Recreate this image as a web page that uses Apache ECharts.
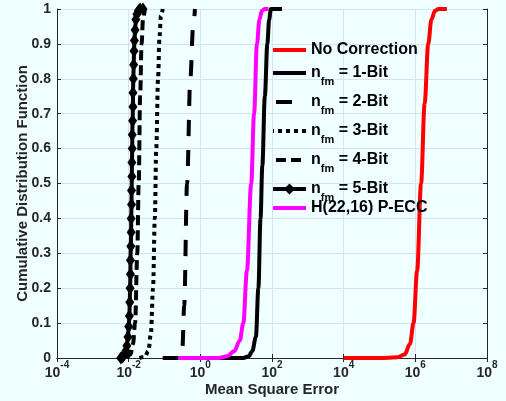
<!DOCTYPE html>
<html><head><meta charset="utf-8">
<script src="https://cdn.jsdelivr.net/npm/echarts@6/dist/echarts.min.js"></script>
<style>html,body{margin:0;padding:0;background:#F0FFFF;}#c{width:506px;height:401px;}</style>
</head><body><div id="c"></div>
<script>
// log10(MSE) and CDF values
var noCorrLog = [4.0, 5.0, 5.5, 5.7, 5.85, 5.95, 6.05, 6.16, 6.26, 6.36, 6.45, 6.55, 6.65, 6.88];
var noCorrCdf = [0, 0, 0.002, 0.01, 0.04, 0.1, 0.25, 0.5, 0.73, 0.9, 0.97, 0.995, 1, 1];

var bit1Log = [0.3, 1.2, 1.35, 1.45, 1.55, 1.62, 1.68, 1.73, 1.8, 1.87, 1.92, 1.97, 2.28];
var bit1Cdf = [0, 0, 0.005, 0.02, 0.06, 0.2, 0.4, 0.55, 0.75, 0.9, 0.97, 1, 1];

var bit2Log = [-1.05, -0.56, -0.5, -0.45, -0.37, -0.28, -0.2, -0.15];
var bit2Cdf = [0, 0, 0.03, 0.15, 0.5, 0.8, 0.95, 1];

var bit3Log = [-1.7, -1.55, -1.45, -1.38, -1.32, -1.27, -1.23, -1.18, -1.14, -1.1, -1.05];
var bit3Cdf = [0, 0.003, 0.02, 0.07, 0.2, 0.4, 0.6, 0.8, 0.92, 0.98, 1];

var bit4Log = [-2.05, -1.95, -1.88, -1.82, -1.76, -1.72, -1.68, -1.64, -1.6, -1.55];
var bit4Cdf = [0, 0.01, 0.04, 0.1, 0.3, 0.5, 0.75, 0.9, 0.97, 1];

var bit5Log = [-2.22, -2.17, -2.12, -2.08, -2.05, -2.02, -2.0, -1.98, -1.97, -1.96, -1.95, -1.95, -1.94, -1.93, -1.93, -1.92, -1.92, -1.91, -1.91, -1.9, -1.9, -1.89, -1.88, -1.88, -1.87, -1.86, -1.85, -1.84, -1.82, -1.8, -1.77, -1.73, -1.68, -1.6];
var bit5Cdf = [0, 0.003, 0.01, 0.02, 0.035, 0.06, 0.09, 0.12, 0.16, 0.2, 0.24, 0.28, 0.32, 0.36, 0.4, 0.44, 0.48, 0.52, 0.56, 0.6, 0.64, 0.68, 0.72, 0.76, 0.8, 0.84, 0.88, 0.91, 0.94, 0.97, 0.985, 0.995, 1, 1];

var eccLog = [-0.62, 0.5, 0.75, 0.95, 1.1, 1.2, 1.3, 1.42, 1.5, 1.58, 1.65, 1.72, 1.8, 1.9];
var eccCdf = [0, 0, 0.005, 0.02, 0.05, 0.1, 0.25, 0.5, 0.7, 0.9, 0.97, 0.995, 1, 1];

var seriesNames = ['No Correction', 'nfm1', 'nfm2', 'nfm3', 'nfm4', 'nfm5', 'H(22,16) P-ECC'];
var bitLabels = {nfm1: ' = 1-Bit', nfm2: ' = 2-Bit', nfm3: ' = 3-Bit', nfm4: ' = 4-Bit', nfm5: ' = 5-Bit'};

function pts(lg, cdf) { return lg.map(function (e, i) { return [Math.pow(10, e), cdf[i]]; }); }

var FONT = 'Liberation Sans';
var AX = '#262626';
var chart = echarts.init(document.getElementById('c'), null, {renderer: 'canvas'});

function line(name, lg, cdf, color, type, extra) {
  var s = {
    name: name, type: 'line', data: pts(lg, cdf), smooth: 0.35, smoothMonotone: 'x',
    showSymbol: false, symbol: 'none', animation: false,
    lineStyle: {color: color, width: 4, type: type, cap: 'butt'},
    itemStyle: {color: color}
  };
  if (extra) Object.assign(s, extra);
  return s;
}

var hide = {opacity: 0};
var legendText = {
  fontFamily: FONT, fontWeight: 'bold', fontSize: 16, color: '#000',
  rich: {
    n: {fontFamily: FONT, fontWeight: 'bold', fontSize: 16, color: '#000', lineHeight: 28, verticalAlign: 'middle'},
    s: {fontFamily: FONT, fontWeight: 'bold', fontSize: 11, color: '#000', lineHeight: 28, verticalAlign: 'bottom'}
  }
};
function legendFmt(name) {
  if (bitLabels[name]) return '{n|n}{s|fm}{n|' + bitLabels[name] + '}';
  return name;
}
function lw(c, t, extra) {
  var o = {color: c, width: 4, type: t, cap: 'butt'};
  if (extra) Object.assign(o, extra);
  return o;
}

var option = {
  backgroundColor: '#F0FFFF',
  animation: false,
  grid: {left: 57, right: 19, top: 9, bottom: 43, show: false, outerBoundsMode: 'none', containLabel: false},
  legend: [{
    orient: 'vertical', left: 266, top: 42, itemWidth: 33, itemHeight: 14, itemGap: 7, padding: [0, 0, 0, 5],
    data: [
      {name: 'No Correction', itemStyle: hide, lineStyle: lw('#FF0000', 'solid')},
      {name: 'nfm1', itemStyle: hide, lineStyle: lw('#000', 'solid')},
      {name: 'nfm2', itemStyle: hide, lineStyle: lw('#000', [16, 14], {dashOffset: 27})},
      {name: 'nfm3', itemStyle: hide, lineStyle: lw('#000', [4, 4])},
      {name: 'nfm4', itemStyle: hide, lineStyle: lw('#000', [10, 5])},
      {name: 'nfm5', lineStyle: lw('#000', 'solid')}
    ],
    formatter: legendFmt,
    textStyle: legendText
  }, {
    orient: 'vertical', left: 266, top: 200, itemWidth: 33, itemHeight: 14, padding: [0, 0, 0, 5],
    data: [{name: 'H(22,16) P-ECC', itemStyle: hide, lineStyle: lw('#FF00FF', 'solid')}],
    formatter: legendFmt,
    textStyle: legendText
  }],
  xAxis: [{
    type: 'log', logBase: 10, min: 1e-4, max: 1e8, interval: 2, splitNumber: 6,
    name: 'Mean Square Error', nameLocation: 'middle', nameGap: 24, nameMoveOverlap: false,
    nameTextStyle: {fontFamily: FONT, fontWeight: 'bold', fontSize: 15, color: AX},
    axisLine: {show: true, lineStyle: {color: AX, width: 1}},
    axisTick: {show: true, inside: true, length: 4, lineStyle: {color: AX}},
    minorTick: {show: false},
    splitLine: {show: true, lineStyle: {color: '#D5E2F5', width: 1}},
    axisLabel: {
      margin: 2,
      formatter: function (v) {
        var e = Math.round(Math.log10(v));
        return '{b|10}{e|' + e + '}';
      },
      rich: {
        b: {fontFamily: FONT, fontWeight: 'bold', fontSize: 14, color: AX, lineHeight: 20, verticalAlign: 'bottom'},
        e: {fontFamily: FONT, fontWeight: 'bold', fontSize: 10, color: AX, lineHeight: 20, verticalAlign: 'top'}
      }
    }
  }, {
    type: 'log', logBase: 10, min: 1e-4, max: 1e8, interval: 2, splitNumber: 6, position: 'top',
    axisLine: {show: true, lineStyle: {color: AX, width: 1}},
    axisTick: {show: true, inside: true, length: 4, lineStyle: {color: AX}},
    axisLabel: {show: false}, splitLine: {show: false}
  }],
  yAxis: [{
    type: 'value', min: 0, max: 1, interval: 0.1,
    name: 'Cumulative Distribution Function', nameLocation: 'middle', nameGap: 27, nameMoveOverlap: false,
    nameTextStyle: {fontFamily: FONT, fontWeight: 'bold', fontSize: 15, color: AX},
    axisLine: {show: true, lineStyle: {color: AX, width: 1}},
    axisTick: {show: true, inside: true, length: 4, lineStyle: {color: AX}},
    splitLine: {show: true, lineStyle: {color: '#D5E2F5', width: 1}},
    axisLabel: {
      margin: 6, fontFamily: FONT, fontWeight: 'bold', fontSize: 14, color: AX,
      formatter: function (v) { return String(Math.round(v * 10) / 10); }
    }
  }, {
    type: 'value', min: 0, max: 1, interval: 0.1, position: 'right',
    axisLine: {show: true, lineStyle: {color: AX, width: 1}},
    axisTick: {show: true, inside: true, length: 4, lineStyle: {color: AX}},
    axisLabel: {show: false}, splitLine: {show: false}
  }],
  series: [
    line('No Correction', noCorrLog, noCorrCdf, '#FF0000', 'solid'),
    line('nfm1', bit1Log, bit1Cdf, '#000000', 'solid'),
    line('nfm2', bit2Log, bit2Cdf, '#000000', [16, 14]),
    line('nfm3', bit3Log, bit3Cdf, '#000000', [4, 4]),
    line('nfm4', bit4Log, bit4Cdf, '#000000', [10, 5]),
    line('nfm5', bit5Log, bit5Cdf, '#000000', 'solid', {
      showSymbol: true, symbol: 'diamond', symbolSize: [9, 13], smooth: false
    }),
    line('H(22,16) P-ECC', eccLog, eccCdf, '#FF00FF', 'solid')
  ]
};
chart.setOption(option);
</script></body></html>
